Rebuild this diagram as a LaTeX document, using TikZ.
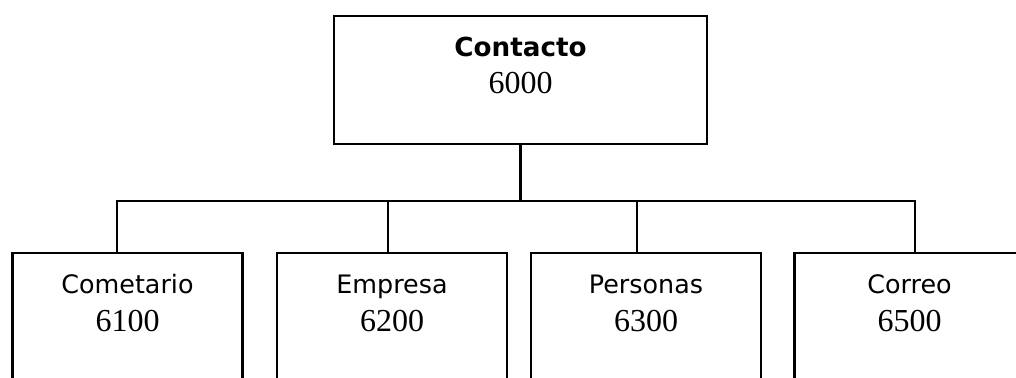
\documentclass[tikz,border=0pt]{standalone}
\usepackage{fontspec}
\setmainfont{Liberation Serif}
\setsansfont{DejaVu Sans}
\usetikzlibrary{positioning}

\tikzset{
  box/.style={draw, rectangle, line width=1.3pt, inner sep=0pt},
  title/.style={font=\sffamily\fontsize{12.7}{15}\selectfont, anchor=base, inner sep=0pt},
  code/.style={font=\rmfamily\fontsize{16}{19}\selectfont, anchor=base, inner sep=0pt},
  link/.style={line width=1.3pt}
}

\begin{document}
\begin{tikzpicture}[x=0.5pt, y=-0.5pt]

    % Clip mask
    \useasboundingbox (0,0) rectangle (1016,377);
    \clip (0,0) rectangle (1016,377);

  % Draw the top box
  \node[box, minimum width=186.5pt, minimum height=64pt] (contacto) at (520.5,80) {};
  \node[title, font=\sffamily\bfseries\fontsize{13.1}{16}\selectfont] (contacto-name) at ([yshift=-21pt]contacto.north) {Contacto};
  \node[code] (contacto-code) at ([yshift=-39.5pt]contacto.north) {6000};

  % Draw the lower boxes
  \foreach \name/\num/\cx/\dx [count=\i] in {Cometario/6100/127.5/117, Empresa/6200/392/388, Personas/6300/646/637, Correo/6500/909.5/915} {
    \node[box, minimum width=115pt, minimum height=80pt] (b\i) at (\cx,333) {};
    \node[title] (b\i-name) at ([yshift=-21pt]b\i.north) {\name};
    \node[code] (b\i-code) at ([yshift=-40pt]b\i.north) {\num};
    \coordinate (d\i) at (\dx,201);
  }

  % Draw the links
  \draw[link] (contacto.south) -- (contacto.south |- d1);
  \draw[link] (d1 |- b1.north) -- (d1) -- (d4) -- (d4 |- b4.north);
  \draw[link] (d2) -- (d2 |- b2.north);
  \draw[link] (d3) -- (d3 |- b3.north);

\end{tikzpicture}
\end{document}
